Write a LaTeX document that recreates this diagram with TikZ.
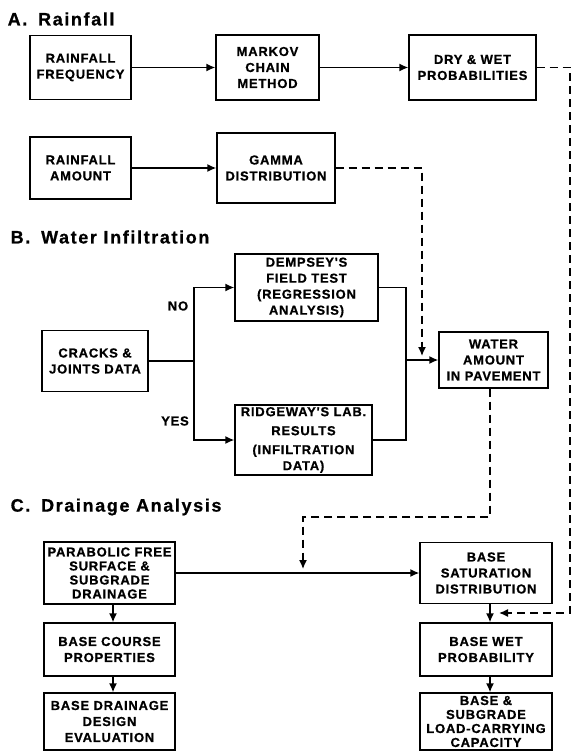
\documentclass[tikz,border=0pt]{standalone}
\usepackage{fontspec}
\usepackage{tikz}
\usetikzlibrary{positioning,arrows.meta}
\newfontfamily\boxFont{Liberation Sans}[LetterSpace=6, BoldFeatures={FakeBold=0.8}]
\newfontfamily\titleFont{Liberation Sans}[LetterSpace=9, BoldFeatures={FakeBold=0.8}]
\tikzstyle{flowChart} = [x = 1pt, y = -1pt, line width = 1.4pt]
\tikzstyle{boxStyle} = [draw, align=center, inner sep=0pt, font=\boxFont\bfseries\fontsize{13}{16}\selectfont]
\tikzstyle{tightBox} = [font=\boxFont\bfseries\fontsize{13}{14}\selectfont]
\tikzstyle{labelStyle} = [inner sep=0pt, font=\boxFont\bfseries\fontsize{13}{16}\selectfont]
\tikzstyle{titleStyle} = [anchor=west, inner sep=0pt, font=\titleFont\bfseries\fontsize{18}{20}\selectfont]
\tikzstyle{flowArrow} = [-{Latex[length=9pt, width=8pt]}]
\tikzstyle{dashLine} = [dash pattern=on 8pt off 5pt]
\newcommand{\flowBox}[7][]{\node [boxStyle, #1, minimum width=#5pt, minimum height=#6pt] (#2) at (#3, #4) {#7};}

\begin{document}
\begin{tikzpicture}[flowChart]
  \useasboundingbox (0,0) rectangle (572,751);

  \node [titleStyle] (titleA) at (7,19) {A.\hspace{0.6em}Rainfall};
  \flowBox{rainFreq}{80.5}{67.5}{101}{64}{RAINFALL\\FREQUENCY}
  \flowBox{markov}{267.5}{67.5}{103}{65}{MARKOV\\CHAIN\\METHOD}
  \flowBox{dryWet}{472.5}{67.5}{127}{65}{DRY \& WET\\PROBABILITIES}
  \flowBox{rainAmt}{80.5}{168}{101}{62}{RAINFALL\\AMOUNT}
  \flowBox{gamma}{276}{168}{118}{70}{GAMMA\\DISTRIBUTION}

  \node [titleStyle] (titleB) at (10,237) {B.\hspace{0.6em}Water Infiltration};
  \flowBox{dempsey}{306.5}{287.5}{143}{67}{DEMPSEY'S\\FIELD TEST\\(REGRESSION\\ANALYSIS)}
  \flowBox{cracks}{95}{361}{106}{61}{CRACKS \&\\JOINTS DATA}
  \flowBox{water}{493.5}{360}{109}{56}{WATER\\AMOUNT\\IN PAVEMENT}
  \flowBox{ridgeway}{303.5}{440}{137}{70}{RIDGEWAY'S LAB.\\[3pt]RESULTS\\[3pt](INFILTRATION\\DATA)}
  \node [labelStyle] (labelNo) at (178,306) {NO};
  \node [labelStyle] (labelYes) at (175,421) {YES};

  \node [titleStyle] (titleC) at (10,507) {C.\hspace{0.6em}Drainage Analysis};
  \flowBox[tightBox]{parabolic}{109.5}{573}{131}{62}{PARABOLIC FREE\\SURFACE \&\\SUBGRADE\\DRAINAGE}
  \flowBox{baseSat}{486}{573}{132}{61}{BASE\\SATURATION\\DISTRIBUTION}
  \flowBox{baseCourse}{109.5}{649.5}{131}{53}{BASE COURSE\\PROPERTIES}
  \flowBox{baseDrain}{109.5}{721.5}{131}{57}{BASE DRAINAGE\\DESIGN\\EVALUATION}
  \flowBox{baseWet}{486}{649.5}{132}{53}{BASE WET\\PROBABILITY}
  \flowBox[tightBox]{baseLoad}{486}{721.5}{132}{57}{BASE \&\\SUBGRADE\\LOAD-CARRYING\\CAPACITY}

  \coordinate (rightTurn) at (570,67.5);
  \coordinate (wetIn) at (499,613);
  \coordinate (gammaTurn) at (422,168);
  \coordinate (gammaIn) at (422,356);
  \coordinate (split) at (194,361);
  \coordinate (merge) at (406,360);
  \coordinate (dropTurn) at (490,517);
  \coordinate (paraTurn) at (303,517);
  \coordinate (paraIn) at (303,569);
  \coordinate (leftDrop) at (113,0);
  \coordinate (rightDrop) at (490,0);

  \draw [flowArrow] (rainFreq) -- (markov);
  \draw [flowArrow] (markov) -- (dryWet);
  \draw [flowArrow] (rainAmt) -- (gamma);
  \draw [dashLine, flowArrow] (dryWet) -- (rightTurn) |- (wetIn);
  \draw [dashLine, flowArrow] (gamma) -- (gammaTurn) -- (gammaIn);

  \draw (cracks) -- (split);
  \draw [flowArrow] (split) |- (dempsey);
  \draw [flowArrow] (split) |- (ridgeway);
  \draw (dempsey) -| (merge);
  \draw (ridgeway) -| (merge);
  \draw [flowArrow] (merge) -- (water);

  \draw [dashLine, flowArrow] (water.south -| dropTurn) -- (dropTurn) -- (paraTurn) -- (paraIn);
  \draw [flowArrow] (parabolic) -- (baseSat);
  \draw [flowArrow] (parabolic.south -| leftDrop) -- (baseCourse.north -| leftDrop);
  \draw [flowArrow] (baseCourse.south -| leftDrop) -- (baseDrain.north -| leftDrop);
  \draw [flowArrow] (baseSat.south -| rightDrop) -- (baseWet.north -| rightDrop);
  \draw [flowArrow] (baseWet.south -| rightDrop) -- (baseLoad.north -| rightDrop);
\end{tikzpicture}
\end{document}
